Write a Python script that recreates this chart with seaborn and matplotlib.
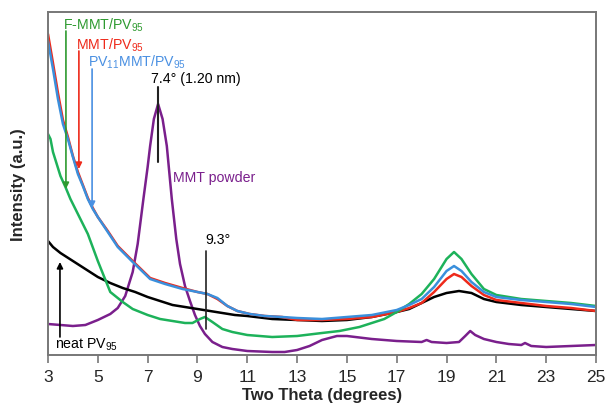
import matplotlib
matplotlib.use("Agg")
import matplotlib.pyplot as plt
import seaborn as sns
import pandas as pd

# ---- data (two theta in degrees, intensity in arbitrary units) ----
theta_blue = [3.0, 3.2, 3.4, 3.6, 3.8, 4.0, 4.2, 4.4, 4.6, 4.8, 5.0, 5.4, 5.8, 6.0, 6.4, 7.1, 7.7, 8.4, 9.0, 9.4,
              9.8, 10.2, 10.6, 11.1, 11.7, 12.4, 13.0, 14.0, 15.0, 16.0, 17.0, 17.5, 18.0, 18.5, 19.0, 19.3, 19.6,
              20.0, 20.5, 21.0, 22.0, 23.0, 24.0, 25.0]
int_blue = [314, 286, 256, 231, 216, 198, 181, 169, 156, 146, 138, 123, 108, 103, 93, 76, 71, 66, 63, 61,
            57, 49, 44, 41, 39, 38, 37, 36, 38, 40, 45, 50, 56, 68, 84, 89, 84, 73, 63, 58, 55, 53, 51, 48]

theta_red = [3.0, 3.2, 3.4, 3.6, 3.8, 4.0, 4.2, 4.4, 4.6, 4.8, 5.0, 5.4, 5.8, 6.0, 6.4, 7.1, 7.7, 8.4, 9.0, 9.4,
             9.8, 10.2, 10.6, 11.1, 11.7, 12.4, 13.0, 14.0, 15.0, 16.0, 17.0, 17.5, 18.0, 18.5, 19.0, 19.3, 19.6,
             20.0, 20.5, 21.0, 22.0, 23.0, 24.0, 25.0]
int_red = [321, 292, 262, 235, 218, 199, 183, 170, 157, 147, 138, 124, 109, 104, 94, 77, 72, 67, 63, 61,
           56, 49, 44, 41, 39, 38, 35, 35, 36, 38, 43, 47, 52, 63, 76, 81, 78, 69, 60, 55, 52, 49, 47, 44]

theta_black = [3.0, 3.2, 3.5, 4.0, 4.5, 5.0, 5.5, 6.0, 6.5, 7.0, 7.5, 8.0, 8.5, 9.0, 9.5, 10.0, 10.5, 11.0,
               12.0, 13.0, 14.0, 15.0, 16.0, 17.0, 17.5, 18.0, 18.5, 19.0, 19.5, 20.0, 20.5, 21.0, 22.0, 23.0,
               24.0, 25.0]
int_black = [114, 108, 102, 94, 86, 78, 72, 67, 63, 58, 54, 50, 48, 46, 44, 42, 40, 39,
             36, 35, 34, 35, 38, 43, 46, 52, 58, 62, 64, 62, 56, 53, 50, 48, 46, 44]

theta_green = [3.0, 3.1, 3.2, 3.35, 3.5, 3.7, 3.9, 4.2, 4.4, 4.6, 5.0, 5.5, 6.0, 6.4, 7.0, 7.5, 8.0, 8.5, 8.8,
               9.1, 9.3, 9.6, 10.0, 10.4, 11.0, 12.0, 13.0, 14.0, 14.7, 15.5, 16.5, 17.0, 17.5, 18.0, 18.5,
               19.0, 19.3, 19.6, 20.0, 20.5, 21.0, 22.0, 23.0, 24.0, 25.0]
int_green = [221, 216, 203, 191, 179, 168, 156, 141, 131, 121, 94, 63, 53, 46, 40, 36, 34, 32, 32,
             36, 38, 33, 26, 23, 20, 18, 19, 22, 24, 28, 36, 43, 51, 61, 76,
             96, 103, 96, 81, 66, 60, 56, 54, 52, 49]

theta_purple = [3.0, 3.5, 4.0, 4.5, 5.0, 5.5, 5.8, 6.1, 6.4, 6.6, 6.83, 7.0, 7.1, 7.25, 7.42, 7.6, 7.77, 7.97,
                8.15, 8.3, 8.5, 8.7, 8.9, 9.1, 9.3, 9.6, 10.0, 10.4, 11.0, 12.0, 12.5, 13.0, 13.5, 14.0, 14.6,
                15.0, 16.0, 17.0, 18.0, 18.2, 18.4, 19.0, 19.5, 19.75, 19.95, 20.15, 20.5, 21.0, 21.5, 22.0,
                22.15, 22.4, 23.0, 24.0, 25.0]
int_purple = [31, 30, 29, 30, 35, 41, 47, 59, 83, 111, 156, 188, 209, 236, 251, 236, 209, 156,
              116, 91, 69, 54, 40, 29, 21, 13, 8, 6, 4, 3, 3, 5, 9, 15, 19,
              19, 16, 14, 13, 15, 13, 12, 13, 19, 24, 20, 16, 13, 11, 10,
              12, 9, 8, 9, 10]

series = [
    ("MMT powder", theta_purple, int_purple, "#7a1f8c"),
    ("neat PV95", theta_black, int_black, "#000000"),
    ("MMT/PV95", theta_red, int_red, "#ee2a1b"),
    ("F-MMT/PV95", theta_green, int_green, "#1db25a"),
    ("PV11MMT/PV95", theta_blue, int_blue, "#3a8fdc"),
]

sns.set_style("white")
plt.rcParams["font.family"] = ["Liberation Sans", "DejaVu Sans"]
plt.rcParams["mathtext.default"] = "regular"

fig = plt.figure(figsize=(6.06, 4.06), dpi=100)
ax = fig.add_axes([48 / 606, 50 / 406, 548 / 606, 343 / 406])

for name, th, val, col in series:
    df = pd.DataFrame({"theta": th, "intensity": val})
    sns.lineplot(data=df, x="theta", y="intensity", color=col, lw=1.8, ax=ax,
                 estimator=None, sort=False)

ax.set_xlim(3, 25)
ax.set_ylim(0, 343)
ax.set_xticks(range(3, 26, 2))
ax.set_yticks([])
ax.tick_params(axis="x", direction="out", length=6, width=1.2, color="#777777",
               labelsize=12.5, pad=4, bottom=True)
for s in ax.spines.values():
    s.set_color("#777777")
    s.set_linewidth(1.4)

ax.set_xlabel("Two Theta (degrees)", fontsize=12, fontweight="bold", labelpad=2)
ax.set_ylabel("Intensity (a.u.)", fontsize=12, fontweight="bold", labelpad=16)

fs = 10.2
ax.text(3.6, 331, "F-MMT/PV$_{95}$", color="#2e9a30", fontsize=fs, va="center", ha="left")
ax.text(4.12, 311, "MMT/PV$_{95}$", color="#ee2a1b", fontsize=fs, va="center", ha="left")
ax.text(4.6, 294, "PV$_{11}$MMT/PV$_{95}$", color="#4a90e2", fontsize=fs, va="center", ha="left")
ax.text(7.13, 277, "7.4° (1.20 nm)", color="black", fontsize=fs, va="center", ha="left")
ax.text(8.02, 178, "MMT powder", color="#7a1f8c", fontsize=fs, va="center", ha="left")
ax.text(9.3, 116, "9.3°", color="black", fontsize=fs, va="center", ha="left")
ax.text(3.28, 11, "neat PV$_{95}$", color="black", fontsize=fs, va="center", ha="left")

def arrow(x, y0, y1, col):
    ax.annotate("", xy=(x, y1), xytext=(x, y0),
                arrowprops=dict(arrowstyle="-|>", color=col, lw=1.2, mutation_scale=9,
                                shrinkA=0, shrinkB=0))

arrow(3.72, 324, 166, "#2e9a30")
arrow(4.24, 304, 186, "#ee2a1b")
arrow(4.77, 286, 147, "#4a90e2")
arrow(3.48, 18, 93, "black")

ax.plot([7.42, 7.42], [268, 193], color="#222222", lw=1.5)
ax.plot([9.33, 9.33], [104, 26], color="#222222", lw=1.2)

fig.savefig("out.png", dpi=100)
